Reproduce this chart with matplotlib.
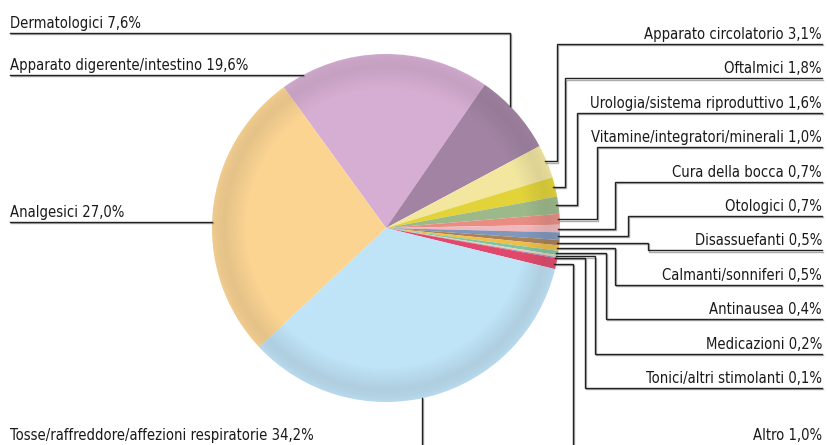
import numpy as np
import matplotlib.pyplot as plt
import matplotlib.patheffects as pe
from matplotlib.patches import Circle

# Quote di mercato per area terapeutica (%), in senso orario dall'alto
categorie = ["Apparato digerente/intestino", "Dermatologici", "Apparato circolatorio",
             "Oftalmici", "Urologia/sistema riproduttivo", "Vitamine/integratori/minerali",
             "Cura della bocca", "Otologici", "Disassuefanti", "Calmanti/sonniferi",
             "Antinausea", "Medicazioni", "Tonici/altri stimolanti", "Altro",
             "Tosse/raffreddore/affezioni respiratorie", "Analgesici"]
quote = [19.6, 7.6, 3.1, 1.8, 1.6, 1.0, 0.7, 0.7, 0.5, 0.5, 0.4, 0.2, 0.1, 1.0, 34.2, 27.0]
colori = ["#d7aed3", "#a283a3", "#f3e7a0", "#e2d438", "#9db98a", "#e98d83", "#f0b8bd",
          "#7f97bd", "#a98159", "#efbf46", "#81c4a1", "#e9cdb9", "#8a8fb0", "#e2486c",
          "#bfe3f7", "#fbd492"]

W, H = 828, 445
cx, cy, r = 386, 228, 174          # centro e raggio in pixel (y verso il basso)
inizio = 126

plt.rcParams['font.family'] = ['Liberation Sans Narrow', 'DejaVu Sans']
plt.rcParams['font.stretch'] = 'condensed'

fig = plt.figure(figsize=(W / 100, H / 100), dpi=100)
ax = fig.add_axes([0, 0, 1, 1])

wedges, _ = ax.pie(quote, colors=colori, startangle=inizio, counterclock=False,
                   center=(cx, H - cy), radius=r, wedgeprops=dict(linewidth=0))

# leggero scurimento verso il bordo della torta
n = 400
g = np.linspace(-1, 1, n)
xx, yy = np.meshgrid(g, g)
rr = np.sqrt(xx ** 2 + yy ** 2)
ombra = np.interp(rr, [0, 0.80, 0.93, 0.97, 1.0], [0, 0, 0.12, 0.10, 0.06])
rgba = np.zeros((n, n, 4))
rgba[..., :3] = 0.25
rgba[..., 3] = ombra
im = ax.imshow(rgba, extent=(cx - r, cx + r, H - cy - r, H - cy + r), zorder=3,
               interpolation='bilinear')
im.set_clip_path(Circle((cx, H - cy), r, transform=ax.transData))

ax.set_xlim(0, W)
ax.set_ylim(0, H)
ax.set_aspect('equal')
ax.axis('off')

effetti = [pe.SimpleLineShadow(offset=(0.9, -0.9), shadow_color='#888888', alpha=0.7),
           pe.Normal()]


def linea(punti):
    xs = [p[0] for p in punti]
    ys = [H - p[1] for p in punti]
    ax.plot(xs, ys, color='#222222', lw=1.0, solid_joinstyle='miter',
            path_effects=effetti, zorder=4)


def testo(x, y, s, ha='left'):
    ax.text(x, H - y, s, ha=ha, va='baseline', fontsize=10.6, color='#1a1a1a', zorder=5)


def etichetta(i):
    return f"{categorie[i]} {quote[i]:.1f}%".replace('.', ',')


# angoli medi degli spicchi
bordi = inizio - np.cumsum([0] + quote) * 3.6
medi = (bordi[:-1] + bordi[1:]) / 2

# etichette a sinistra
x_derm = 510
linea([(10, 33), (x_derm, 33), (x_derm, cy - np.sqrt(r ** 2 - (x_derm - cx) ** 2))])
testo(10, 28, etichetta(1))

linea([(10, 75), (cx - np.sqrt(r ** 2 - (cy - 75) ** 2), 75)])
testo(10, 70, etichetta(0))

linea([(10, 222), (cx - np.sqrt(r ** 2 - (cy - 222) ** 2), 222)])
testo(10, 217, etichetta(15))

x_tosse = 422
linea([(x_tosse, cy + np.sqrt(r ** 2 - (x_tosse - cx) ** 2)), (x_tosse, H + 2)])
testo(10, 440, etichetta(14))

# etichette a destra per gli spicchi piccoli
x_vert = [557, 565, 577, 597, 615, 628, 648, 615, 606, 595, 585]
for k, i in enumerate(range(2, 13)):
    a = np.radians(medi[i])
    px, py = cx + r * np.cos(a) - 2, cy - r * np.sin(a)
    y_sotto = 44 + 34.4 * k
    linea([(px, py), (x_vert[k], py), (x_vert[k], y_sotto), (822, y_sotto)])
    testo(822, y_sotto - 5, etichetta(i), ha='right')

a = np.radians(medi[13])
px, py = cx + r * np.cos(a) - 2, cy - r * np.sin(a)
linea([(px, py), (573, py), (573, H + 2)])
testo(822, 440, etichetta(13), ha='right')

fig.savefig("out.png", dpi=100)
